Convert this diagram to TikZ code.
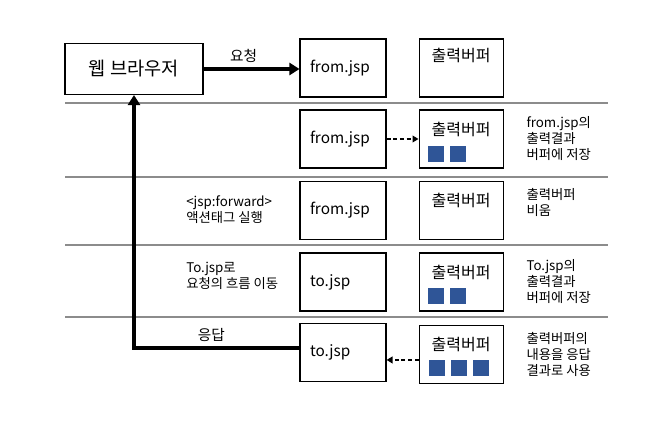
\documentclass[tikz,border=0pt]{standalone}
\usepackage{fontspec}
\setmainfont{Noto Sans CJK KR}
\usetikzlibrary{arrows.meta, positioning}
\definecolor{sepgray}{RGB}{140,140,140}
\definecolor{blockblue}{RGB}{47,85,151}

\begin{document}
\begin{tikzpicture}[
  x=0.75pt, y=-0.75pt,
  browser/.style={draw, line width=0.8pt, minimum width=103.5pt, minimum height=38.25pt, font=\fontsize{14pt}{16pt}\selectfont},
  jspbox/.style={draw, line width=0.8pt, text width=49.5pt, inner xsep=7.5pt, minimum height=43.5pt, align=left, font=\fontsize{11.5pt}{14pt}\selectfont},
  bufbox/.style={draw, line width=0.8pt, minimum width=63pt, minimum height=43.5pt},
  buflabel/.style={font=\fontsize{12pt}{14pt}\selectfont},
  note/.style={align=left, anchor=west, inner sep=0pt, font=\fontsize{10pt}{12pt}\selectfont},
  edgelabel/.style={font=\fontsize{11pt}{13pt}\selectfont},
  blk/.style={fill=blockblue, minimum size=12pt, inner sep=0pt},
  sep/.style={draw=sepgray, line width=1.5pt},
  flow/.style={-{Triangle[length=7.5pt,width=9pt]}, line width=3pt},
  copy/.style={-{Triangle[length=4.5pt,width=5pt]}, line width=1.2pt, dash pattern=on 3pt off 2pt}
]
\useasboundingbox (0,0) rectangle (655,424);

% separators between the steps
\foreach \y in {103,177,245,317}
  \draw[sep] (65,\y) -- (608,\y);

\node[browser] (browser) at (134,69) {웹 브라우저};

% jsp pages
\node[jspbox] (from1) at (343,68) {from.jsp};
\node[jspbox] (from2) at (343,139) {from.jsp};
\node[jspbox] (from3) at (343,210.5) {from.jsp};
\node[jspbox] (to4) at (343,282) {to.jsp};
\node[jspbox] (to5) at (343,352.5) {to.jsp};

% output buffers
\node[bufbox, right=24pt of from1] (buf1) {};
\node[bufbox, right=24pt of from2] (buf2) {};
\node[bufbox, right=24pt of from3] (buf3) {};
\node[bufbox, right=24pt of to4] (buf4) {};
\node[bufbox, right=24pt of to5, yshift=-1.5pt] (buf5) {};
\node[buflabel] (buf1l) at ([yshift=-13pt]buf1.north) {출력버퍼};
\node[buflabel] (buf2l) at ([yshift=-15pt]buf2.north) {출력버퍼};
\node[buflabel] (buf3l) at ([yshift=-15pt]buf3.north) {출력버퍼};
\node[buflabel] (buf4l) at ([yshift=-15pt]buf4.north) {출력버퍼};
\node[buflabel] (buf5l) at ([yshift=-15pt]buf5.north) {출력버퍼};

% buffer contents
\node[blk] (sq21) at (436,154) {};
\node[blk, right=4pt of sq21] (sq22) {};
\node[blk] (sq41) at (436,296) {};
\node[blk, right=4pt of sq41] (sq42) {};
\node[blk] (sq51) at (437,368) {};
\node[blk, right=4pt of sq51] (sq52) {};
\node[blk, right=4pt of sq52] (sq53) {};

% notes
\node[note, right=17pt of buf2] (note2) {from.jsp의\\출력결과\\버퍼에 저장};
\node[note, right=17pt of buf3, yshift=6pt] (note3) {출력버퍼\\비움};
\node[note, right=17pt of buf4] (note4) {To.jsp의\\출력결과\\버퍼에 저장};
\node[note, right=17pt of buf5] (note5) {출력버퍼의\\내용을 응답\\결과로 사용};
\node[note] (fwd) at (186,210) {<jsp:forward>\\액션태그 실행};
\node[note] (move) at (186,275.5) {To.jsp로\\요청의 흐름 이동};

% request and response
\draw[flow] (browser.east) -- (from1.west |- browser.east)
  node[edgelabel, midway, above=0pt, xshift=-6pt] (reqlbl) {요청};
\draw[flow] ([yshift=3.4pt]to5.west) -| (browser.south)
  node[edgelabel, pos=0.25, above=0pt, xshift=-4pt] (reslbl) {응답};

% buffer traffic
\draw[copy] (from2.east) -- (buf2.west);
\draw[copy] ([yshift=-4.1pt]buf5.west) -- ([yshift=-4.1pt]buf5.west -| to5.east);
\end{tikzpicture}
\end{document}
